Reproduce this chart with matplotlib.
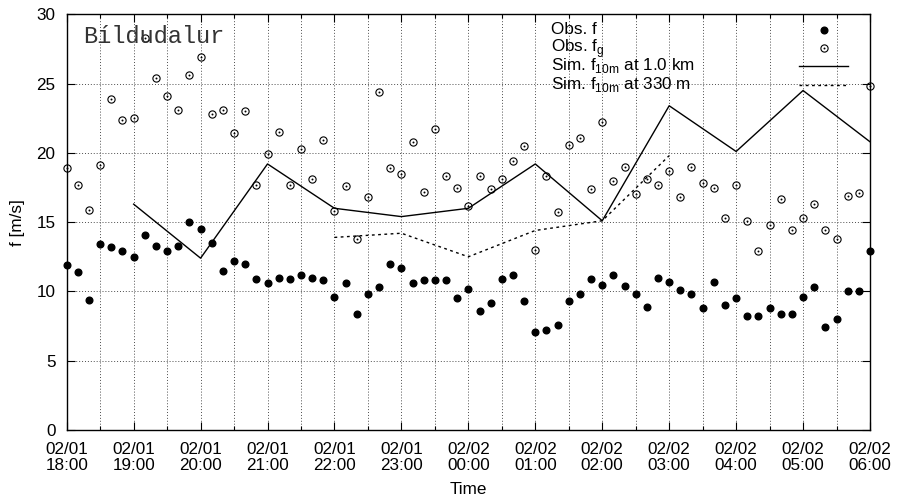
import matplotlib
matplotlib.use("Agg")
import matplotlib.pyplot as plt
import matplotlib.dates as mdates
import matplotlib.transforms as mtransforms
from matplotlib.path import Path
import pandas as pd

plt.rcParams['font.family'] = ['Liberation Sans', 'DejaVu Sans']
plt.rcParams['mathtext.fontset'] = 'custom'
plt.rcParams['mathtext.rm'] = 'Liberation Sans'

# ---------------- data ----------------
obs_times = pd.date_range('2004-02-01 18:00', '2004-02-02 06:00', freq='10min')
obs_f = [11.9, 11.4, 9.4, 13.4, 13.2, 12.9,
         12.5, 14.1, 13.3, 12.9, 13.3, 15.0,
         14.5, 13.5, 11.5, 12.2, 12.0, 10.9,
         10.6, 11.0, 10.9, 11.2, 11.0, 10.8,
         9.6, 10.6, 8.4, 9.8, 10.3, 12.0,
         11.7, 10.6, 10.8, 10.8, 10.8, 9.5,
         10.2, 8.6, 9.2, 10.9, 11.2, 9.3,
         7.1, 7.2, 7.6, 9.3, 9.8, 10.9,
         10.5, 11.2, 10.4, 9.8, 8.9, 11.0,
         10.7, 10.1, 9.8, 8.8, 10.7, 9.0,
         9.5, 8.2, 8.2, 8.8, 8.4, 8.4,
         9.6, 10.3, 7.4, 8.0, 10.0, 10.0,
         12.9]
obs_fg = [18.9, 17.7, 15.9, 19.1, 23.9, 22.4,
          22.5, 28.3, 25.4, 24.1, 23.1, 25.6,
          26.9, 22.8, 23.1, 21.4, 23.0, 17.7,
          19.9, 21.5, 17.7, 20.3, 18.1, 20.9,
          15.8, 17.6, 13.8, 16.8, 24.4, 18.9,
          18.5, 20.8, 17.2, 21.7, 18.3, 17.5,
          16.2, 18.3, 17.4, 18.1, 19.4, 20.5,
          13.0, 18.3, 15.7, 20.6, 21.1, 17.4,
          22.2, 18.0, 19.0, 17.0, 18.1, 17.7,
          18.7, 16.8, 19.0, 17.8, 17.5, 15.3,
          17.7, 15.1, 12.9, 14.8, 16.7, 14.4,
          15.3, 16.3, 14.4, 13.8, 16.9, 17.1,
          24.8]
sim_1km_times = pd.date_range('2004-02-01 19:00', periods=12, freq='h')
sim_1km = [16.3, 12.4, 19.2, 16.0, 15.4, 16.0, 19.2, 15.1, 23.4, 20.1, 24.5, 20.8]
sim_330m_times = pd.date_range('2004-02-01 22:00', periods=6, freq='h')
sim_330m = [13.9, 14.2, 12.5, 14.4, 15.1, 19.8]

labels = ['Obs. f', r'Obs. f$_\mathregular{g}$',
          r'Sim. f$_\mathregular{10m}$ at 1.0 km', r'Sim. f$_\mathregular{10m}$ at 330 m']
station = 'Bíldudalur'

# ---------------- figure ----------------
FS = 12.3
W, H = 897, 497
fig = plt.figure(figsize=(W / 100, H / 100), dpi=100)
L, R, B, T = 66.7, 870, 430, 14.3
ax = fig.add_axes([L / W, 1 - B / H, (R - L) / W, (B - T) / H])

gust_marker = Path.make_compound_path(Path.unit_circle(), Path.circle((0, 0), 0.12))

l_f, = ax.plot(obs_times, obs_f, ls='none', marker='o', ms=4.8, color='black',
               clip_on=False, zorder=4)
l_fg, = ax.plot(obs_times, obs_fg, ls='none', marker=gust_marker, ms=5.2, mfc='none',
                mec='black', mew=0.8, clip_on=False, zorder=4)
l_1km, = ax.plot(sim_1km_times, sim_1km, color='black', lw=1.0, zorder=3)
l_330, = ax.plot(sim_330m_times, sim_330m, color='black', lw=1.0,
                 ls=(0, (2, 2.5)), zorder=3)

ax.set_xlim(pd.Timestamp('2004-02-01 18:00'), pd.Timestamp('2004-02-02 06:00'))
ax.set_ylim(0, 30)
ax.set_yticks(range(0, 31, 5))
ax.xaxis.set_major_locator(mdates.HourLocator())
ax.xaxis.set_minor_locator(mdates.MinuteLocator(byminute=[30]))
ax.xaxis.set_major_formatter(mdates.DateFormatter('%m/%d\n%H:%M'))

ax.tick_params(which='both', direction='in', top=True, right=True, labelsize=FS,
               width=0.8, colors='black')
ax.tick_params(which='major', length=6)
ax.tick_params(which='minor', length=3)
ax.tick_params(axis='x', which='major', pad=8.5)
ax.tick_params(axis='y', which='major', pad=8)

gkw = dict(color='0.3', lw=0.7, ls=(0, (1, 2)))
ax.grid(which='both', axis='x', **gkw)
ax.grid(which='major', axis='y', **gkw)
ax.set_axisbelow(True)
for s in ax.spines.values():
    s.set_linewidth(1.0)

ax.set_xlabel('Time', fontsize=FS, labelpad=6)
ax.set_ylabel('f [m/s]', fontsize=FS, labelpad=8)

ax.text(0.0203, 0.9302, station, transform=ax.transAxes, family='Liberation Mono',
        fontsize=17, color='0.2', va='baseline', ha='left', zorder=5)

# legend: samples through matplotlib legend, labels left-aligned like gnuplot
lfs = 6.0
lpx = lfs * 100 / 72
handles = [l_f, l_fg, l_1km, l_330]
right_frac = (848 - L) / (R - L)


def make_leg(top):
    return ax.legend(handles, [''] * 4, loc='upper right', bbox_to_anchor=(right_frac, top),
                     bbox_transform=ax.transAxes, frameon=False, markerfirst=False,
                     prop={'size': lfs}, handlelength=49 / lpx, handletextpad=0,
                     borderpad=0, borderaxespad=0, labelspacing=1.27, markerscale=1)


leg = make_leg(1.0)
fig.canvas.draw()
for t in ax.get_xticklabels():
    t.set_linespacing(1.12)
rend = fig.canvas.get_renderer()


def centers(lg):
    out = []
    for h in lg.legend_handles:
        bb = h.get_window_extent(rend)
        out.append((bb.y0 + bb.y1) / 2)
    return out


c = centers(leg)
target0 = H - 29.5
ax_h = (B - T)
shift = (target0 - c[0]) / ax_h
leg.remove()
leg = make_leg(1.0 + shift)
fig.canvas.draw()
c = centers(leg)

txt_tr = mtransforms.blended_transform_factory(ax.transAxes, mtransforms.IdentityTransform())
for yc, lab in zip(c, labels):
    ax.text((551 - L) / (R - L), yc - 4, lab, transform=txt_tr, fontsize=FS,
            va='baseline', ha='left', zorder=5)

fig.savefig('out.png', dpi=100)
